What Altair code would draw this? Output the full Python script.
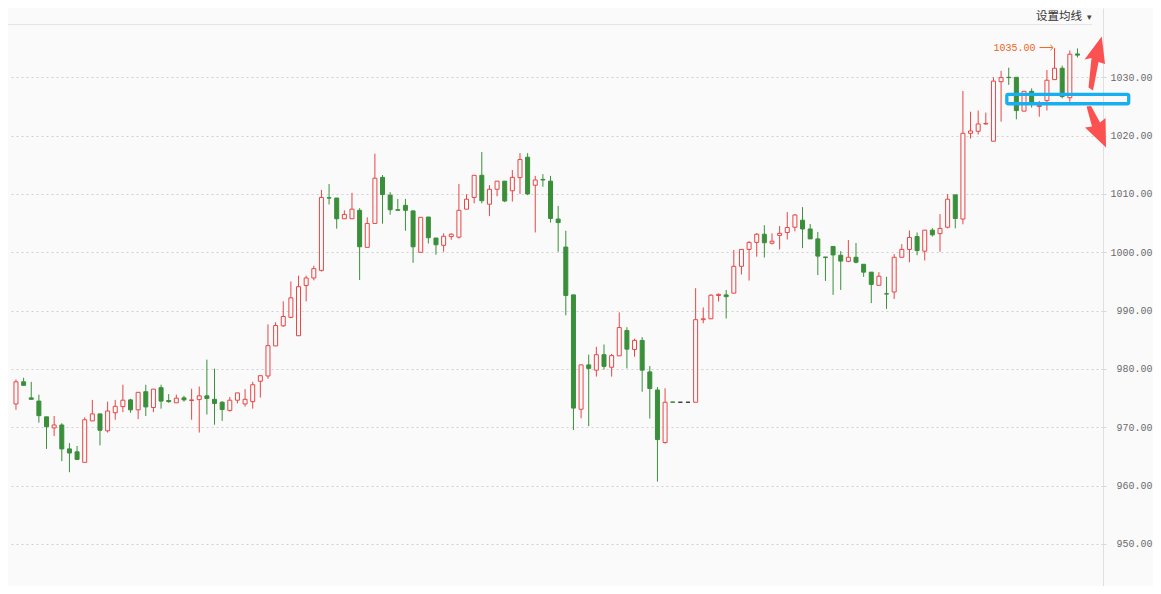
import altair as alt
import pandas as pd

# ---- candle data ----
opens = [974.0, 977.8, 975.05, 974.5, 971.8, 969.9, 970.4, 966.3, 965.8, 964.0,
         971.1, 972.3, 969.4, 972.5, 973.55, 974.7, 973.0, 976.1, 973.4, 976.8,
         974.6, 974.2, 975.05, 974.6, 974.75, 975.4, 974.8, 974.3, 972.9, 974.65,
         974.0, 974.4, 977.9, 978.8, 983.95, 987.4, 988.85, 985.7, 994.3, 995.6,
         996.9, 1009.35, 1009.3, 1005.75, 1005.75, 1007.2, 1000.85, 1004.95, 1012.85, 1009.8,
         1007.3, 1008.05, 1007.1, 1000.0, 1006.05, 1002.45, 1001.2, 1002.7, 1002.6, 1007.4,
         1009.4, 1013.2, 1008.25, 1010.8, 1012.2, 1010.55, 1012.8, 1016.3, 1011.5, 1012.5,
         1012.2, 1005.7, 1000.9, 992.7, 973.1, 980.7, 979.8, 982.45, 980.3, 982.25,
         986.6, 983.35, 984.9, 979.5, 976.4, 967.4, 974.35, 974.3, 974.3, 974.3,
         988.45, 988.6, 992.6, 992.7, 993.0, 997.6, 1000.5, 1001.7, 1003.1, 1001.55,
         1002.9, 1003.4, 1004.3, 1005.5, 1004.0, 1002.3, 999.2, 1001.0, 999.5, 998.45,
         999.15, 997.95, 996.6, 994.35, 992.9, 993.2, 999.15, 1000.5, 1002.7, 1000.2,
         1003.8, 1003.2, 1004.3, 1009.85, 1005.7, 1020.4, 1020.75, 1022.0, 1019.05, 1029.25,
         1030.0, 1030.0, 1024.2, 1027.6, 1025.0, 1026.0, 1029.6, 1031.55, 1026.5, 1034.0]
highs = [978.2, 978.5, 977.8, 975.6, 971.8, 971.95, 970.7, 967.3, 966.8, 971.7,
         974.7, 972.3, 974.4, 974.7, 977.3, 974.9, 976.0, 977.3, 976.55, 977.3,
         975.7, 975.6, 975.4, 976.6, 977.0, 981.6, 980.05, 974.5, 975.2, 975.9,
         976.55, 977.8, 978.85, 987.65, 988.0, 991.6, 995.0, 996.0, 996.0, 997.7,
         1010.7, 1011.7, 1009.3, 1007.2, 1010.2, 1007.55, 1006.0, 1016.9, 1013.25, 1010.3,
         1009.15, 1009.15, 1007.1, 1006.0, 1006.05, 1002.45, 1003.25, 1003.25, 1011.7, 1009.95,
         1013.2, 1017.2, 1011.5, 1012.2, 1012.2, 1014.1, 1017.0, 1017.0, 1013.1, 1013.4,
         1013.1, 1007.95, 1003.7, 992.7, 980.7, 982.45, 983.8, 984.2, 982.6, 989.7,
         987.15, 985.2, 985.45, 980.5, 976.9, 976.7, 974.35, 974.3, 974.3, 993.85,
         990.55, 992.8, 992.95, 993.55, 1000.4, 1000.5, 1001.9, 1003.3, 1004.65, 1003.25,
         1004.5, 1006.9, 1006.55, 1007.75, 1004.85, 1003.5, 999.2, 1001.0, 1000.2, 1002.1,
         1001.6, 997.95, 996.6, 996.6, 995.8, 999.7, 1001.4, 1003.75, 1003.4, 1003.8,
         1004.15, 1006.55, 1010.0, 1009.85, 1027.65, 1024.1, 1024.3, 1023.95, 1030.0, 1031.1,
         1031.65, 1030.0, 1027.6, 1028.1, 1025.95, 1031.25, 1035.0, 1032.0, 1034.6, 1034.95]
lows = [973.0, 977.2, 974.8, 970.8, 966.3, 968.5, 964.2, 962.3, 964.5, 964.0,
        971.1, 966.9, 969.1, 971.3, 972.6, 972.5, 971.4, 971.95, 972.6, 973.2,
        974.2, 974.2, 974.4, 971.3, 969.1, 972.2, 970.45, 971.1, 972.7, 974.1,
        973.55, 973.2, 975.1, 978.3, 983.95, 987.2, 988.7, 985.7, 991.6, 995.2,
        996.7, 1008.2, 1004.05, 1005.75, 1005.75, 995.25, 1000.85, 1004.95, 1004.9, 1006.45,
        1007.2, 1003.7, 998.2, 1000.0, 1001.5, 999.6, 1000.1, 1002.15, 1002.35, 1007.4,
        1008.4, 1008.4, 1006.2, 1009.6, 1008.6, 1008.7, 1010.0, 1009.8, 1003.4, 1011.25,
        1005.1, 1000.1, 989.2, 969.55, 971.55, 970.2, 978.7, 979.9, 978.7, 982.25,
        980.1, 982.1, 976.1, 971.5, 960.7, 967.2, 974.3, 974.3, 974.3, 974.3,
        987.85, 988.6, 991.55, 988.65, 993.0, 996.2, 995.15, 999.25, 999.1, 1001.35,
        1000.5, 1002.2, 1003.6, 1000.7, 1002.3, 996.1, 995.1, 992.7, 993.55, 998.3,
        998.1, 995.8, 991.3, 994.35, 990.3, 992.0, 999.15, 998.3, 999.5, 998.6,
        1002.7, 1000.1, 1004.1, 1004.1, 1004.8, 1019.5, 1020.2, 1021.9, 1019.05, 1022.4,
        1028.7, 1022.8, 1024.2, 1024.8, 1023.25, 1024.3, 1029.6, 1026.4, 1025.8, 1033.4]
closes = [977.8, 977.2, 974.8, 972.0, 970.1, 970.4, 966.3, 965.6, 964.5, 971.3,
          972.3, 969.5, 972.8, 973.6, 974.65, 973.0, 976.0, 973.5, 976.55, 974.5,
          974.4, 975.0, 974.7, 974.7, 975.4, 974.95, 974.1, 973.05, 974.65, 975.9,
          974.8, 977.3, 978.85, 984.0, 987.45, 989.0, 992.2, 994.1, 995.6, 997.2,
          1009.4, 1009.3, 1005.75, 1006.5, 1007.4, 1000.95, 1004.95, 1012.7, 1009.9, 1007.3,
          1007.2, 1007.2, 1000.95, 1006.0, 1002.5, 1001.3, 1002.75, 1003.1, 1007.2, 1009.1,
          1013.2, 1008.85, 1010.8, 1012.2, 1008.8, 1012.85, 1015.9, 1010.0, 1012.4, 1012.4,
          1005.8, 1005.1, 992.6, 973.3, 980.7, 980.1, 982.45, 980.45, 982.3, 987.1,
          983.4, 984.9, 979.8, 976.65, 967.9, 974.3, 974.3, 974.3, 974.3, 988.45,
          988.6, 992.65, 992.8, 992.4, 997.6, 1000.5, 1001.7, 1003.1, 1001.65, 1001.9,
          1003.25, 1004.25, 1006.4, 1004.0, 1002.3, 999.35, 999.1, 999.55, 998.5, 999.15,
          998.3, 996.6, 994.5, 995.9, 992.85, 999.15, 1000.5, 1002.55, 1000.3, 1003.8,
          1003.0, 1004.1, 1009.1, 1005.8, 1020.4, 1020.8, 1022.0, 1022.1, 1029.35, 1029.95,
          1029.95, 1024.3, 1027.6, 1025.65, 1025.2, 1029.5, 1031.55, 1026.7, 1033.95, 1033.8]

y_ticks = [950, 960, 970, 980, 990, 1000, 1010, 1020, 1030]
high_label = "1035.00"
header_text = "设置均线"

RED = "#ea4545"
GREEN = "#3a8f3a"
FLAT = "#333333"
BG = "#fafafa"

n = len(opens)
dirs = ["up" if c > o else ("down" if c < o else "flat") for o, c in zip(opens, closes)]
df = pd.DataFrame({"i": list(range(n)), "open": opens, "high": highs, "low": lows,
                   "close": closes, "dir": dirs})

xscale = alt.Scale(domain=[-0.389, 141.69], nice=False, zero=False)
yscale = alt.Scale(domain=[942.8, 1041.88], nice=False, zero=False)
yaxis = alt.Axis(orient="right", values=y_ticks, format=".2f", title=None,
                 grid=True, gridColor="#d0d0d0", gridDash=[2, 3], gridWidth=1,
                 domain=True, domainColor="#e0e0e0", ticks=True, tickColor="#d8d8d8",
                 tickSize=3, labelAlign="right", labelBaseline="middle", labelPadding=46,
                 labelFont="Liberation Mono", labelFontSize=10, labelColor="#6b6b6b")

def X(f):
    return alt.X(f, type="quantitative", scale=xscale, axis=None)

def Y(f):
    return alt.Y(f, type="quantitative", scale=yscale, axis=yaxis)

base = alt.Chart(df)

wick = base.mark_rule(strokeWidth=1).encode(
    x=X("i"), y=Y("low"), y2="high",
    color=alt.Color("dir:N", scale=alt.Scale(domain=["up", "down", "flat"], range=[RED, GREEN, FLAT]), legend=None),
)

body = base.mark_bar(size=4, strokeWidth=1).encode(
    x=X("i"), y=Y("open"), y2="close",
    fill=alt.Fill("dir:N", scale=alt.Scale(domain=["up", "down", "flat"], range=[BG, GREEN, FLAT]), legend=None),
    stroke=alt.Stroke("dir:N", scale=alt.Scale(domain=["up", "down", "flat"], range=[RED, GREEN, FLAT]), legend=None),
)

# ---- annotations ----
box_df = pd.DataFrame({"x": [129.75], "x2": [145.71], "y": [1027.09], "y2": [1025.47]})
box = alt.Chart(box_df).mark_rect(fillOpacity=0, stroke="#17aff0", strokeWidth=3.3, cornerRadius=1.5).encode(
    x=X("x"), x2="x2", y=Y("y"), y2="y2")

up_path = "M0.223,-0.883 L0.333,0.033 L0.117,-0.033 L-0.067,0.917 L-0.217,0.817 L-0.117,-0.167 L-0.35,-0.117 Z"
down_path = "M-0.283,-0.683 L-0.133,-0.7 L0.167,-0.15 L0.35,-0.3 L0.367,0.683 L-0.333,0.017 L-0.1,-0.017 Z"
up_df = pd.DataFrame({"x": [141.30], "y": [1032.45]})
down_df = pd.DataFrame({"x": [141.30], "y": [1021.48]})
up_arrow = alt.Chart(up_df).mark_point(shape=up_path, filled=True, size=3600, color="#fb5151", opacity=1).encode(
    x=X("x"), y=Y("y"))
down_arrow = alt.Chart(down_df).mark_point(shape=down_path, filled=True, size=3600, color="#fb5151", opacity=1).encode(
    x=X("x"), y=Y("y"))

lab_df = pd.DataFrame({"x": [133.5], "y": [1035.1], "t": [high_label]})
hi_text = alt.Chart(lab_df).mark_text(align="right", baseline="middle", font="Liberation Mono",
                                      fontSize=10, color="#f0641a").encode(x=X("x"), y=Y("y"), text="t:N")
arr_df = pd.DataFrame({"x": [134.03], "x2": [135.72], "y": [1035.1]})
hi_rule = alt.Chart(arr_df).mark_rule(color="#f0641a", strokeWidth=1).encode(x=X("x"), x2="x2", y=Y("y"))
head_df = pd.DataFrame({"x": [135.81], "y": [1035.1]})
hi_head = alt.Chart(head_df).mark_point(shape="M-1,-1 L0,0 L-1,1", filled=False, size=30, color="#f0641a",
                                        strokeWidth=1, opacity=1).encode(x=X("x"), y=Y("y"))

hdr_df = pd.DataFrame({"t": [header_text]})
hdr_line = alt.Chart(hdr_df).mark_rule(color="#e4e4e4", strokeWidth=1).encode(
    x=alt.value(0), x2=alt.value(1084), y=alt.value(16.5))
hdr_text = alt.Chart(hdr_df).mark_text(align="left", baseline="middle", font="Noto Sans CJK SC",
                                       fontSize=11.5, color="#333333").encode(
    x=alt.value(1028), y=alt.value(8.5), text="t:N")
hdr_tri = alt.Chart(pd.DataFrame({"t": ["▾"]})).mark_text(align="left", baseline="middle", font="DejaVu Sans",
                                                          fontSize=9, color="#444444").encode(
    x=alt.value(1079), y=alt.value(8.5), text="t:N")

chart = alt.layer(wick, body, box, up_arrow, down_arrow, hi_rule, hi_head, hi_text,
                  hdr_line, hdr_text, hdr_tri).properties(
    width=1095, height=578,
    autosize=alt.AutoSizeParams(type="none"),
    padding={"left": 0, "top": 0, "right": 50, "bottom": 0},
    background=BG,
).configure_view(strokeWidth=0, fill=BG)

chart.save("out.html", embed_options={"renderer": "svg", "actions": False})
